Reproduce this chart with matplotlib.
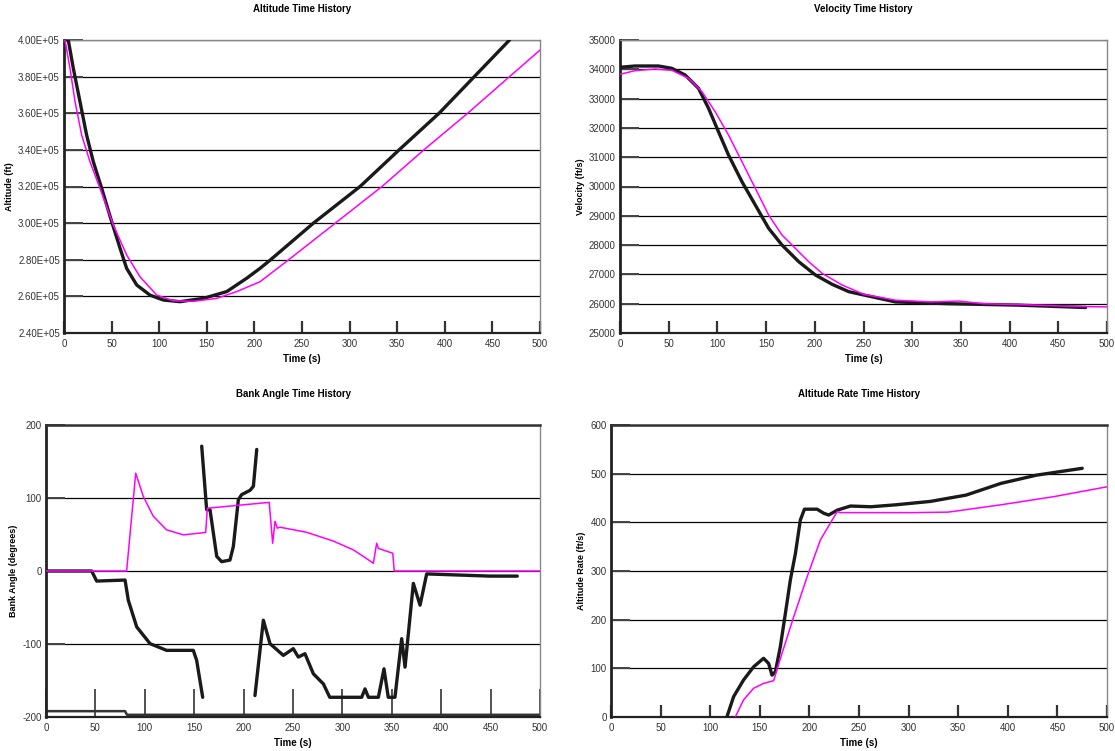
import numpy as np
import matplotlib
matplotlib.use("Agg")
import matplotlib.pyplot as plt

plt.rcParams['font.family'] = ['Liberation Sans', 'DejaVu Sans']

# ---- Altitude (ft) ----
alt_t_flt = [2, 4.5, 9.8, 16.8, 23.8, 30.8, 39.6, 50.1, 58.8, 65.8, 76.4, 90.3, 104.3, 121.8,
             146.3, 170.9, 191.9, 205.9, 217, 262, 311, 352, 394, 431, 468]
alt_flt = [4.0e5, 4.0e5, 3.845e5, 3.663e5, 3.48e5, 3.335e5, 3.19e5, 3.008e5, 2.864e5, 2.753e5,
           2.662e5, 2.607e5, 2.58e5, 2.571e5, 2.589e5, 2.626e5, 2.699e5, 2.753e5, 2.80e5,
           3.0e5, 3.2e5, 3.4e5, 3.6e5, 3.8e5, 4.0e5]
alt_t_sim = [1, 6.3, 11.6, 18.6, 27.3, 37.8, 51.8, 65.8, 79.8, 97.4, 114.8, 135.8, 160.4,
             181.4, 205.9, 236, 285, 334, 378, 424, 468, 500]
alt_sim = [4.0e5, 3.845e5, 3.663e5, 3.48e5, 3.335e5, 3.19e5, 2.99e5, 2.826e5, 2.707e5,
           2.607e5, 2.576e5, 2.573e5, 2.589e5, 2.626e5, 2.68e5, 2.8e5, 3.0e5, 3.2e5, 3.4e5,
           3.6e5, 3.8e5, 3.945e5]
alt_ticks = [2.4e5, 2.6e5, 2.8e5, 3.0e5, 3.2e5, 3.4e5, 3.6e5, 3.8e5, 4.0e5]
alt_labels = ['2.40E+05', '2.60E+05', '2.80E+05', '3.00E+05', '3.20E+05',
              '3.40E+05', '3.60E+05', '3.80E+05', '4.00E+05']

# ---- Velocity (ft/s) ----
vel_t_flt = [0, 15.4, 39.4, 53.2, 66.9, 80.6, 90.9, 101.1, 111.4, 125.2, 138.9, 152.6, 166.3,
             183.5, 200.6, 217.8, 234.9, 250.3, 283, 337, 409.6, 478]
vel_flt = [34068, 34113, 34113, 34034, 33805, 33350, 32669, 31870, 31075, 30164, 29369, 28573,
           28003, 27434, 26980, 26662, 26410, 26297, 26060, 26000, 25950, 25870]
vel_t_sim = [0, 15.4, 36, 53.2, 70.3, 84.1, 97.7, 111.4, 125.2, 138.9, 152.6, 166.3, 180,
             193.7, 207.5, 228, 250.3, 283, 319, 348, 373, 409.6, 464, 500]
vel_sim = [33829, 33953, 34010, 33966, 33692, 33236, 32553, 31758, 30846, 29939, 29027, 28345,
           27890, 27434, 27037, 26638, 26320, 26120, 26060, 26090, 26000, 25970, 25910, 25890]
vel_ticks = [25000, 26000, 27000, 28000, 29000, 30000, 31000, 32000, 33000, 34000, 35000]

# ---- Bank angle (deg) ----
bank_t_sim = [0, 81.6, 90.8, 98.5, 108.6, 122, 139, 161.6, 163.3, 225.9, 229.4, 231.8, 234.1,
              236.8, 263.8, 290.8, 311, 324.5, 331.3, 334.7, 336.4, 351, 352.5, 500]
bank_sim = [0, 0, 134, 102, 75, 56.4, 49.5, 52.8, 86, 94, 38, 68, 58.7, 60, 53, 41, 29, 17,
            10.5, 38, 31, 24.3, 0, 0]
bank_t_flt1 = [0.7, 46.2, 51.3, 80, 83.3, 91.8, 105.3, 122, 149.1, 152.5, 158.6]
bank_flt1 = [0, 0, -13.8, -12.4, -40, -76.6, -99.5, -108.7, -108.7, -122.5, -173]
bank_t_flt2 = [157.6, 162.6, 166, 169.4, 172.8, 177.8, 186.2, 189.6, 194.7, 198, 206.5, 209.9,
               213.3]
bank_flt2 = [171, 84, 84, 52, 20, 12.8, 15, 33.5, 97.7, 104.6, 110.5, 116, 166.5]
bank_t_flt3 = [211.5, 220, 226.7, 240.2, 250.3, 255.4, 262.1, 270.6, 280.7, 287.2, 319.5,
               322.9, 326.3, 336.4, 342.1, 346.4, 353.2, 360, 363.4, 371.8, 378.6, 385.3,
               449.4, 477]
bank_flt3 = [-170.6, -67.4, -99.5, -115.6, -106.4, -117.9, -113.3, -140.8, -154.6, -173, -173,
             -161.5, -173, -173, -134, -173, -173, -92.7, -131.7, -17, -46.8, -4, -7, -7]
bank_base_t = [0, 80, 82, 500]
bank_base = [-192, -192, -197, -197]
bank_ticks = [-200, -100, 0, 100, 200]

# ---- Altitude rate (ft/s) ----
rate_t_flt = [116.8, 123.6, 133.6, 143.7, 153.8, 158.9, 162.3, 165.7, 170.7, 175.8, 180.8,
              185.9, 190.9, 195, 207.8, 214.5, 219.5, 228, 241.4, 262, 287, 322, 358, 393,
              429, 475]
rate_flt = [0, 41.8, 76, 103, 120.6, 110, 86, 93, 144.5, 213, 281.5, 336, 405, 427, 427, 418.6,
            415, 425, 433.5, 432, 436, 443, 456, 480, 497, 511]
rate_t_sim = [125.3, 133.6, 143.7, 153.8, 163.9, 172.4, 184.2, 197.7, 211.1, 228, 231.3,
              304.6, 340, 393, 447, 500]
rate_sim = [0, 35, 59, 69, 74.6, 131, 206, 288, 364, 422, 420, 420, 421, 436, 453, 473]
rate_ticks = [0, 100, 200, 300, 400, 500, 600]

time_ticks = [0, 50, 100, 150, 200, 250, 300, 350, 400, 450, 500]

W, H = 1115, 751
fig = plt.figure(figsize=(W / 100, H / 100), dpi=100)


def make_ax(x0, x1, y0, y1):
    return fig.add_axes([x0 / W, 1 - y1 / H, (x1 - x0) / W, (y1 - y0) / H])


ax_alt = make_ax(64, 540, 40, 333)
ax_vel = make_ax(620, 1107, 40, 333)
ax_bank = make_ax(46, 540, 425, 717)
ax_rate = make_ax(611, 1107, 425, 717)

flt_kw = dict(color='#1a1a1a', lw=2.4, solid_capstyle='round', zorder=3)
sim_kw = dict(color='#ff00ff', lw=1.1, zorder=4)

ax_alt.plot(alt_t_flt, alt_flt, **flt_kw)
ax_alt.plot(alt_t_sim, alt_sim, **sim_kw)
ax_vel.plot(vel_t_flt, vel_flt, **flt_kw)
ax_vel.plot(vel_t_sim, vel_sim, **sim_kw)
ax_bank.plot(bank_base_t, bank_base, color='#333333', lw=1.8, zorder=2)
ax_bank.plot(bank_t_flt1, bank_flt1, **flt_kw)
ax_bank.plot(bank_t_flt2, bank_flt2, **flt_kw)
ax_bank.plot(bank_t_flt3, bank_flt3, **flt_kw)
ax_bank.plot(bank_t_sim, bank_sim, **sim_kw)
ax_rate.plot(rate_t_flt, rate_flt, **flt_kw)
ax_rate.plot(rate_t_sim, rate_sim, **sim_kw)

setup = [
    (ax_alt, 'Altitude Time History', 'Altitude (ft)', alt_ticks, alt_labels),
    (ax_vel, 'Velocity Time History', 'Velocity (ft/s)', vel_ticks, [str(v) for v in vel_ticks]),
    (ax_bank, 'Bank Angle Time History', 'Bank Angle (degrees)', bank_ticks, [str(v) for v in bank_ticks]),
    (ax_rate, 'Altitude Rate Time History', 'Altitude Rate (ft/s)', rate_ticks, [str(v) for v in rate_ticks]),
]

for ax, title, ylabel, yt, ylab in setup:
    ax.set_xlim(0, 500)
    ax.set_ylim(yt[0], yt[-1])
    ax.set_xticks(time_ticks)
    ax.set_yticks(yt)
    ax.set_yticklabels(ylab)
    ax.yaxis.grid(True, color='black', lw=0.9)
    ax.set_axisbelow(True)
    ax.tick_params(axis='x', direction='in', length=9, width=1.6, color='#333333',
                   labelsize=7, pad=4, labelcolor='#333333')
    ax.tick_params(axis='y', direction='in', length=14, width=1.4, color='#444444',
                   labelsize=7, pad=3, labelcolor='#333333')
    ax.set_xlabel('Time (s)', fontsize=7, fontweight='bold', labelpad=4)
    ax.set_ylabel(ylabel, fontsize=6.5, fontweight='bold', labelpad=3)
    ax.set_title(title, fontsize=7, fontweight='bold', pad=20)
    for s in ax.spines.values():
        s.set_color('#888888')
        s.set_linewidth(1.0)
    ax.spines['left'].set_color('#222222')
    ax.spines['left'].set_linewidth(2.0)
    ax.spines['bottom'].set_color('#222222')
    ax.spines['bottom'].set_linewidth(1.6)

for ax in (ax_bank, ax_rate):
    ax.spines['top'].set_color('#333333')
    ax.spines['top'].set_linewidth(1.8)
ax_bank.tick_params(axis='x', length=20, width=1.2)

fig.savefig('out.png', dpi=100)
